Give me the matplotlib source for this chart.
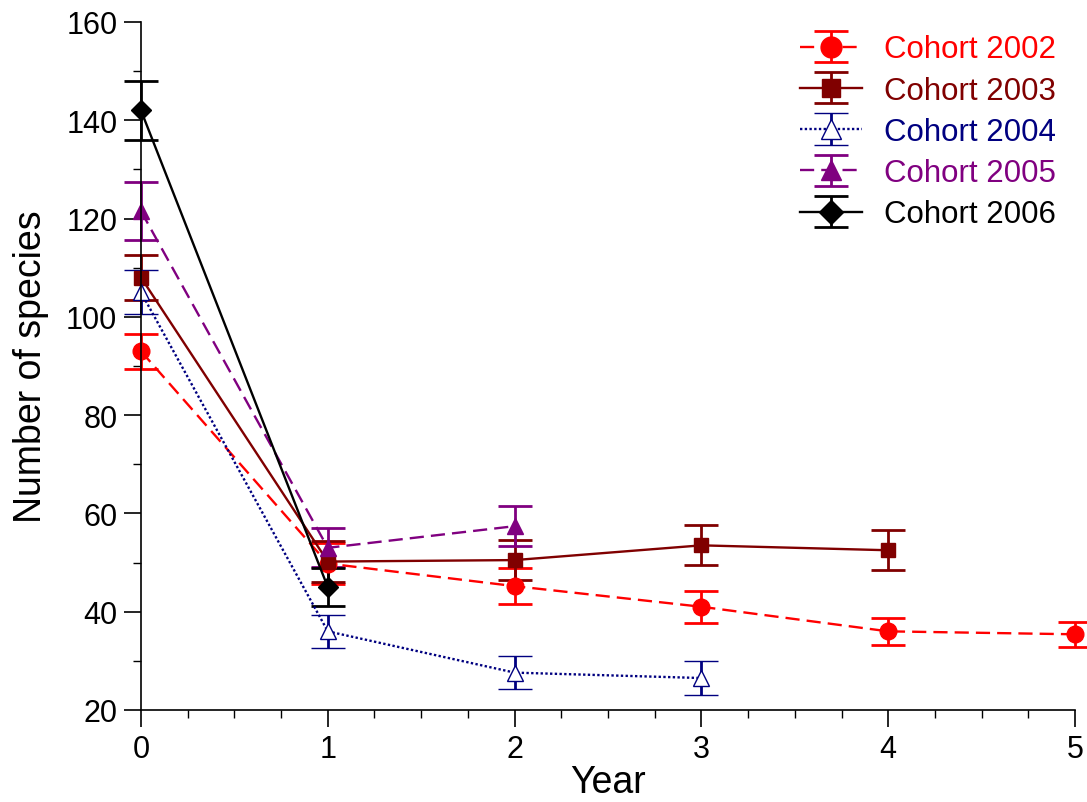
import matplotlib
matplotlib.use("Agg")
import matplotlib.pyplot as plt
from matplotlib.ticker import MultipleLocator

plt.rcParams['font.family'] = ['Liberation Sans', 'DejaVu Sans']

labels = ["Cohort 2002", "Cohort 2003", "Cohort 2004", "Cohort 2005", "Cohort 2006"]
years_2002 = [0, 1, 2, 3, 4, 5]
mean_2002 = [93.0, 49.8, 45.2, 41.0, 36.0, 35.4]
err_2002 = [3.6, 4.2, 3.7, 3.2, 2.8, 2.6]

years_2003 = [0, 1, 2, 3, 4]
mean_2003 = [108.0, 50.2, 50.5, 53.5, 52.5]
err_2003 = [4.5, 4.1, 4.1, 4.1, 4.1]

years_2004 = [0, 1, 2, 3]
mean_2004 = [105.0, 36.0, 27.6, 26.5]
err_2004 = [4.5, 3.4, 3.4, 3.4]

years_2005 = [0, 1, 2]
mean_2005 = [121.5, 53.0, 57.4]
err_2005 = [5.9, 4.0, 4.1]

years_2006 = [0, 1]
mean_2006 = [142.0, 45.0]
err_2006 = [6.0, 3.8]

fig = plt.figure(figsize=(10.87, 8.03), dpi=100)
ax = fig.add_axes([0.1297, 0.1146, 0.8593, 0.8568])

common = dict(capsize=12, capthick=2.0, elinewidth=2.0, lw=1.7, clip_on=False)

ax.errorbar(years_2002, mean_2002, yerr=err_2002, color='#ff0000', ls=(0, (6, 3)),
            marker='o', ms=12, label=labels[0], **common)
ax.errorbar(years_2003, mean_2003, yerr=err_2003, color='#800000', ls='-',
            marker='s', ms=10, label=labels[1], **common)
ax.errorbar(years_2004, mean_2004, yerr=err_2004, color='#000080', ls=(0, (1, 1)),
            marker='^', ms=11, mfc='white', mec='#000080', mew=1.0, label=labels[2],
            **common)
ax.errorbar(years_2005, mean_2005, yerr=err_2005, color='#800080', ls=(0, (6, 3)),
            marker='^', ms=12, label=labels[3], **common)
ax.errorbar(years_2006, mean_2006, yerr=err_2006, color='#000000', ls='-',
            marker='D', ms=10, label=labels[4], **common)

ax.set_xlim(0, 5)
ax.set_ylim(20, 160)
ax.xaxis.set_major_locator(MultipleLocator(1))
ax.xaxis.set_minor_locator(MultipleLocator(0.25))
ax.yaxis.set_major_locator(MultipleLocator(20))
ax.yaxis.set_minor_locator(MultipleLocator(10))
ax.tick_params(which='major', direction='out', length=12, width=1.2, labelsize=22, pad=5)
ax.tick_params(which='minor', direction='out', length=6, width=1.0)
for s in ['top', 'right']:
    ax.spines[s].set_visible(False)
for s in ['left', 'bottom']:
    ax.spines[s].set_linewidth(1.2)

ax.set_xlabel("Year", fontsize=27, labelpad=0)
ax.set_ylabel("Number of species", fontsize=27, labelpad=12)

leg = ax.legend(loc='upper right', bbox_to_anchor=(0.993, 1.0), frameon=False, fontsize=22.5,
                handlelength=2.0, handletextpad=0.7, labelspacing=0.36, borderaxespad=0.0,
                markerscale=1.25)
colors = ['#ff0000', '#800000', '#000080', '#800080', '#000000']
for t, c in zip(leg.get_texts(), colors):
    t.set_color(c)

fig.savefig("out.png", dpi=100)
